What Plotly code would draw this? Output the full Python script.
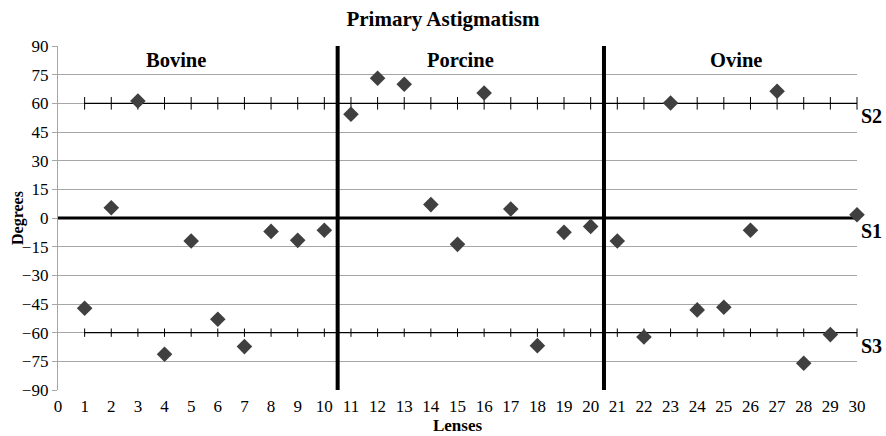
import plotly.graph_objects as go

# Lens indices and measured axis angles (degrees)
lenses = list(range(1, 31))
degrees = [
    -47.2, 5.4, 61.2, -71.3, -12.0, -53.0, -67.3, -7.0, -11.7, -6.4,      # Bovine
    54.3, 73.1, 70.0, 7.0, -13.8, 65.4, 4.7, -66.8, -7.5, -4.4,          # Porcine
    -12.0, -62.3, 60.2, -48.1, -46.7, -6.4, 66.3, -76.0, -61.0, 1.7,     # Ovine
]

# Reference axis levels
s1_level = 0
s2_level = 60
s3_level = -60

groups = ["Bovine", "Porcine", "Ovine"]
group_label_x = [4.43, 15.1, 25.46]
group_label_y = 82.7
group_dividers = [10.5, 20.5]

y_ticks = list(range(-90, 91, 15))
x_ticks = list(range(0, 31))

SERIF = "Liberation Serif"

fig = go.Figure()

# S1 reference (thick line at 0)
fig.add_trace(go.Scatter(
    x=[0, 30], y=[s1_level, s1_level], mode="lines",
    line=dict(color="black", width=3), hoverinfo="skip", showlegend=False,
))

# S2 and S3 reference lines with tick markers at each lens
for lvl, msize in ((s2_level, 9), (s3_level, 6)):
    fig.add_trace(go.Scatter(
        x=lenses, y=[lvl] * len(lenses), mode="lines+markers",
        line=dict(color="black", width=1.3),
        marker=dict(symbol="line-ns", size=msize, line=dict(color="black", width=1)),
        hoverinfo="skip", showlegend=False, cliponaxis=False,
    ))

# Group dividers
for xd in group_dividers:
    fig.add_trace(go.Scatter(
        x=[xd, xd], y=[-90, 90], mode="lines",
        line=dict(color="black", width=4), hoverinfo="skip", showlegend=False,
        cliponaxis=False,
    ))

# Measured angles
fig.add_trace(go.Scatter(
    x=lenses, y=degrees, mode="markers",
    marker=dict(symbol="diamond", size=12, color="#404040"),
    showlegend=False, cliponaxis=False,
))

annotations = []
for name, gx in zip(groups, group_label_x):
    annotations.append(dict(
        x=gx, y=group_label_y, xref="x", yref="y", text="<b>%s</b>" % name,
        showarrow=False, font=dict(family=SERIF, size=20.5, color="black"),
    ))

for name, lvl in (("S2", s2_level), ("S1", s1_level), ("S3", s3_level)):
    annotations.append(dict(
        x=1, y=lvl, xref="paper", yref="y", text="<b>%s</b>" % name,
        showarrow=False, xanchor="left", yanchor="top", xshift=2, yshift=0,
        font=dict(family=SERIF, size=20, color="black"),
    ))

# y-axis title
annotations.append(dict(
    x=0, y=0.5, xref="paper", yref="paper", xshift=-40, text="<b>Degrees</b>",
    textangle=-90, showarrow=False, xanchor="center", yanchor="middle",
    font=dict(family=SERIF, size=16, color="black"),
))

fig.update_layout(
    width=886, height=436,
    margin=dict(l=58, r=29, t=46, b=46),
    paper_bgcolor="white", plot_bgcolor="white",
    font=dict(family=SERIF, color="black"),
    title=dict(text="<b>Primary Astigmatism</b>", x=0.5, xanchor="center",
               y=0.958, yanchor="middle",
               font=dict(family=SERIF, size=21, color="black")),
    annotations=annotations,
    xaxis=dict(
        range=[0, 30], tickvals=x_ticks, showgrid=False, zeroline=False,
        showline=False, ticks="", ticklabelstandoff=4, automargin=False,
        tickfont=dict(family=SERIF, size=17, color="black"),
        title=dict(text="<b>Lenses</b>", standoff=4,
                   font=dict(family=SERIF, size=17, color="black")),
    ),
    yaxis=dict(
        range=[-90, 90], tickvals=y_ticks, showgrid=True, automargin=False,
        gridcolor="#a6a6a6", gridwidth=1.3, zeroline=False,
        showline=True, linecolor="#a6a6a6", linewidth=1.3,
        ticks="outside", ticklen=5, tickcolor="#a6a6a6",
        tickfont=dict(family=SERIF, size=17, color="black"),
    ),
)

fig.write_html("out.html")
